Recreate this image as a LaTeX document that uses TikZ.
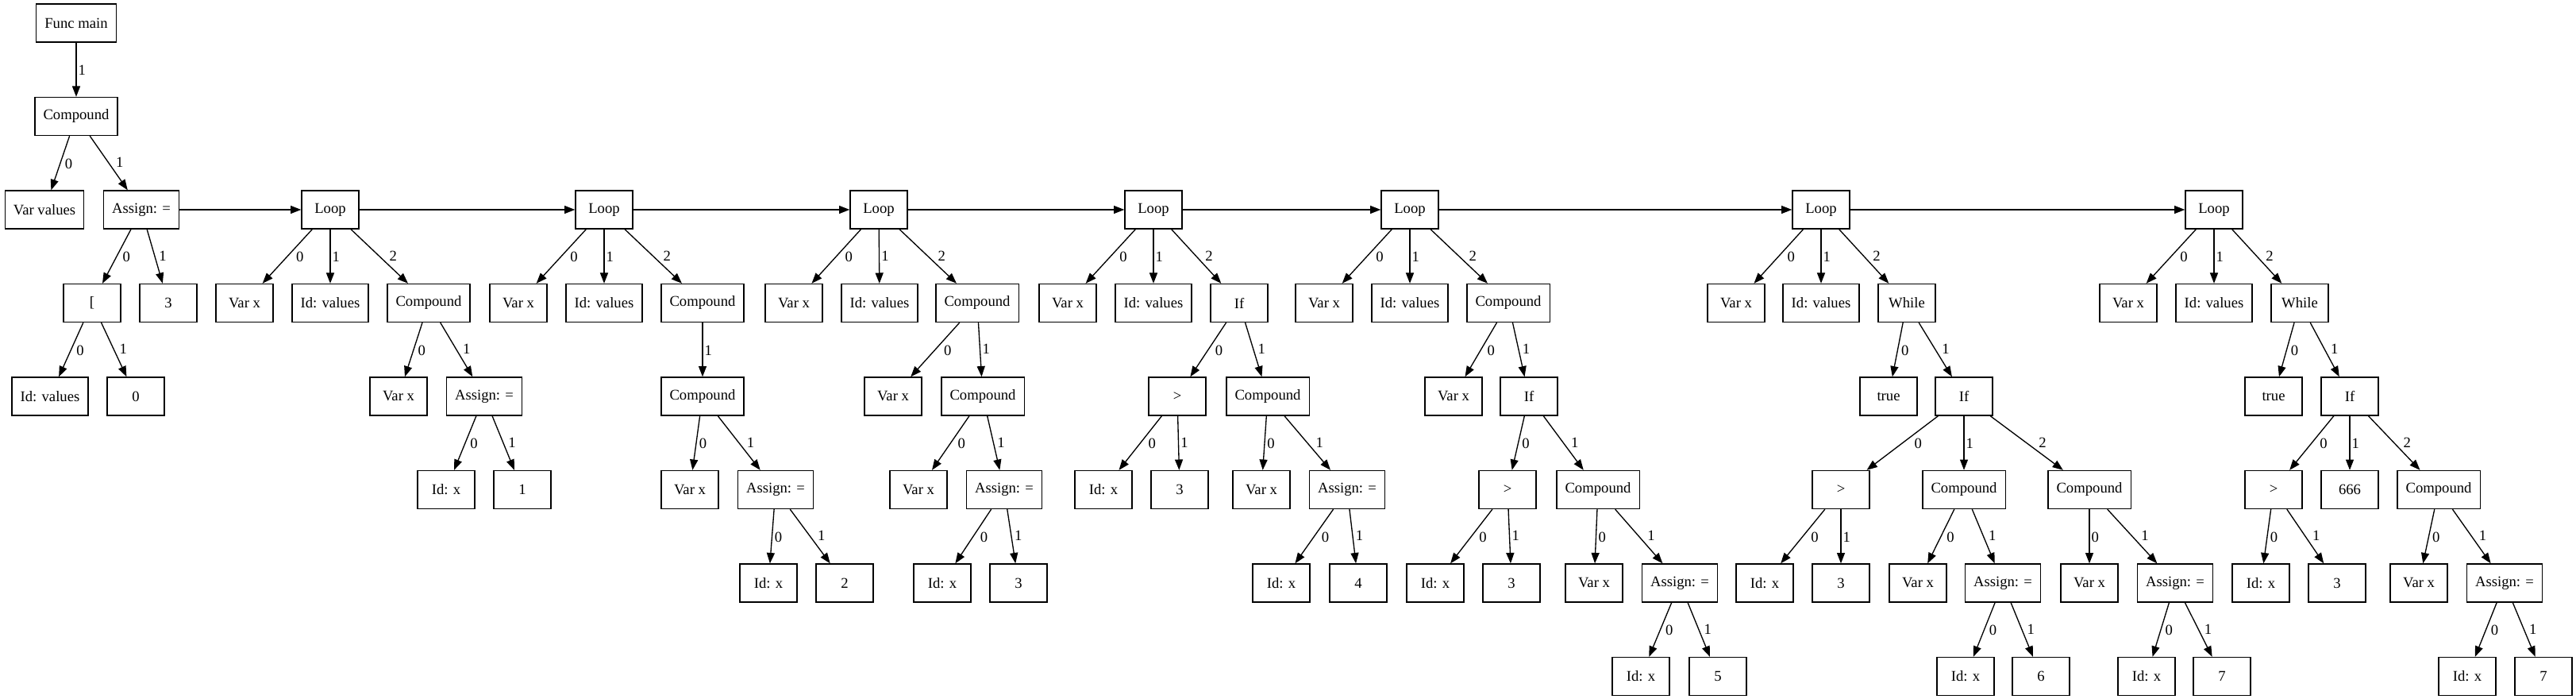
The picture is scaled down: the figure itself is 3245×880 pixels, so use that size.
\documentclass[tikz,border=0pt]{standalone}
\usepackage{fontspec}
\setmainfont{Liberation Serif}
\usetikzlibrary{arrows.meta}
\tikzset{
  box/.style={draw, line width=1pt, rectangle, minimum width=54pt, minimum height=36pt,
    inner xsep=8pt, inner ysep=0pt, font=\fontsize{14pt}{16.8pt}\selectfont},
  edge/.style={draw, line width=1pt, -{Triangle[length=10pt,width=7.5pt]}},
  lab/.style={inner xsep=1.5pt, inner ysep=0pt, minimum height=14.25pt,
    font=\fontsize{14pt}{16.8pt}\selectfont},
  lL/.style={lab, pos=0.363, anchor=north west},
  lR/.style={lab, pos=0.637, anchor=south west},
}
\newcommand{\El}[3]{\draw[edge] (#1) -- (#2) node[lL]{#3};}
\newcommand{\Er}[3]{\draw[edge] (#1) -- (#2) node[lR]{#3};}
\begin{document}
\begin{tikzpicture}[x=0.75pt,y=-0.75pt]
\useasboundingbox (0,0) rectangle (3245,880);
% rows: 29 146.5 264 381.5 499 616.5 734 851.5
% row 0-2
\node[box] (fm) at (96,29) {Func main};
\node[box] (c0) at (96,146.5) {Compound};
\node[box] (vv) at (56,264) {Var values};
\node[box] (a0) at (178,264) {Assign: =};
\node[box] (L1) at (416,264) {Loop};
\node[box] (L2) at (761,264) {Loop};
\node[box] (L3) at (1107,264) {Loop};
\node[box] (L4) at (1453,264) {Loop};
\node[box] (L5) at (1776,264) {Loop};
\node[box] (L6) at (2294,264) {Loop};
\node[box] (L7) at (2789,264) {Loop};
% row 3
\node[box] (br) at (116,381.5) {[};
\node[box] (n3) at (212,381.5) {3};
\node[box] (v1) at (308,381.5) {Var x};
\node[box] (i1) at (416,381.5) {Id: values};
\node[box] (c1) at (540,381.5) {Compound};
\node[box] (v2) at (653,381.5) {Var x};
\node[box] (i2) at (761,381.5) {Id: values};
\node[box] (c2) at (885,381.5) {Compound};
\node[box] (v3) at (1000,381.5) {Var x};
\node[box] (i3) at (1108,381.5) {Id: values};
\node[box] (c3) at (1231,381.5) {Compound};
\node[box] (v4) at (1345,381.5) {Var x};
\node[box] (i4) at (1453,381.5) {Id: values};
\node[box] (if4) at (1561,381.5) {If};
\node[box] (v5) at (1668,381.5) {Var x};
\node[box] (i5) at (1776,381.5) {Id: values};
\node[box] (c5) at (1900,381.5) {Compound};
\node[box] (v6) at (2187,381.5) {Var x};
\node[box] (i6) at (2294,381.5) {Id: values};
\node[box] (w6) at (2402,381.5) {While};
\node[box] (v7) at (2681,381.5) {Var x};
\node[box] (i7) at (2789,381.5) {Id: values};
\node[box] (w7) at (2897,381.5) {While};
% row 4
\node[box] (idv) at (63,499) {Id: values};
\node[box] (z0) at (171,499) {0};
\node[box] (c1v) at (502,499) {Var x};
\node[box] (c1a) at (610,499) {Assign: =};
\node[box] (c2c) at (885,499) {Compound};
\node[box] (c3v) at (1125,499) {Var x};
\node[box] (c3c) at (1238,499) {Compound};
\node[box] (g4) at (1483,499) {>};
\node[box] (c4) at (1597,499) {Compound};
\node[box] (c5v) at (1831,499) {Var x};
\node[box] (if5) at (1926,499) {If};
\node[box] (t6) at (2379,499) {true};
\node[box] (if6) at (2474,499) {If};
\node[box] (t7) at (2864,499) {true};
\node[box] (if7) at (2960,499) {If};
% row 5
\node[box] (x1) at (562,616.5) {Id: x};
\node[box] (k1) at (658,616.5) {1};
\node[box] (c2v) at (869,616.5) {Var x};
\node[box] (c2a) at (977,616.5) {Assign: =};
\node[box] (c3cv) at (1157,616.5) {Var x};
\node[box] (c3a) at (1265,616.5) {Assign: =};
\node[box] (x4g) at (1390,616.5) {Id: x};
\node[box] (k4g) at (1486,616.5) {3};
\node[box] (c4v) at (1589,616.5) {Var x};
\node[box] (c4a) at (1697,616.5) {Assign: =};
\node[box] (g5) at (1899,616.5) {>};
\node[box] (c5c) at (2013,616.5) {Compound};
\node[box] (g6) at (2319,616.5) {>};
\node[box] (c6a) at (2474,616.5) {Compound};
\node[box] (c6b) at (2632,616.5) {Compound};
\node[box] (g7) at (2864,616.5) {>};
\node[box] (n666) at (2960,616.5) {666};
\node[box] (c7) at (3072,616.5) {Compound};
% row 6
\node[box] (x2) at (968,734) {Id: x};
\node[box] (k2) at (1064,734) {2};
\node[box] (x3) at (1187,734) {Id: x};
\node[box] (k3) at (1283,734) {3};
\node[box] (x4) at (1614,734) {Id: x};
\node[box] (k4) at (1711,734) {4};
\node[box] (x5g) at (1808,734) {Id: x};
\node[box] (k5g) at (1904,734) {3};
\node[box] (c5cv) at (2008,734) {Var x};
\node[box] (c5ca) at (2116,734) {Assign: =};
\node[box] (x6g) at (2223,734) {Id: x};
\node[box] (k6g) at (2319,734) {3};
\node[box] (c6av) at (2416,734) {Var x};
\node[box] (c6aa) at (2523,734) {Assign: =};
\node[box] (c6bv) at (2632,734) {Var x};
\node[box] (c6ba) at (2740,734) {Assign: =};
\node[box] (x7g) at (2848,734) {Id: x};
\node[box] (k7g) at (2944,734) {3};
\node[box] (c7v) at (3047,734) {Var x};
\node[box] (c7a) at (3155,734) {Assign: =};
% row 7
\node[box] (x5) at (2067,851.5) {Id: x};
\node[box] (k5) at (2164,851.5) {5};
\node[box] (x6a) at (2476,851.5) {Id: x};
\node[box] (k6a) at (2571,851.5) {6};
\node[box] (x6b) at (2704,851.5) {Id: x};
\node[box] (k6b) at (2799,851.5) {7};
\node[box] (x7) at (3108,851.5) {Id: x};
\node[box] (k7) at (3204,851.5) {7};
% horizontal chain
\draw[edge] (a0) -- (L1);
\draw[edge] (L1) -- (L2);
\draw[edge] (L2) -- (L3);
\draw[edge] (L3) -- (L4);
\draw[edge] (L4) -- (L5);
\draw[edge] (L5) -- (L6);
\draw[edge] (L6) -- (L7);
% tree edges
\El{fm}{c0}{1}
\El{c0}{vv}{0} \Er{c0}{a0}{1}
\El{a0}{br}{0} \Er{a0}{n3}{1}
\El{br}{idv}{0} \Er{br}{z0}{1}
% L1
\El{L1}{v1}{0} \El{L1}{i1}{1} \Er{L1}{c1}{2}
\El{c1}{c1v}{0} \Er{c1}{c1a}{1}
\El{c1a}{x1}{0} \Er{c1a}{k1}{1}
% L2
\El{L2}{v2}{0} \El{L2}{i2}{1} \Er{L2}{c2}{2}
\El{c2}{c2c}{1}
\El{c2c}{c2v}{0} \Er{c2c}{c2a}{1}
\El{c2a}{x2}{0} \Er{c2a}{k2}{1}
% L3
\El{L3}{v3}{0} \Er{L3}{i3}{1} \Er{L3}{c3}{2}
\El{c3}{c3v}{0} \Er{c3}{c3c}{1}
\El{c3c}{c3cv}{0} \Er{c3c}{c3a}{1}
\El{c3a}{x3}{0} \Er{c3a}{k3}{1}
% L4
\El{L4}{v4}{0} \El{L4}{i4}{1} \Er{L4}{if4}{2}
\El{if4}{g4}{0} \Er{if4}{c4}{1}
\El{g4}{x4g}{0} \Er{g4}{k4g}{1}
\El{c4}{c4v}{0} \Er{c4}{c4a}{1}
\El{c4a}{x4}{0} \Er{c4a}{k4}{1}
% L5
\El{L5}{v5}{0} \El{L5}{i5}{1} \Er{L5}{c5}{2}
\El{c5}{c5v}{0} \Er{c5}{if5}{1}
\El{if5}{g5}{0} \Er{if5}{c5c}{1}
\El{g5}{x5g}{0} \Er{g5}{k5g}{1}
\El{c5c}{c5cv}{0} \Er{c5c}{c5ca}{1}
\El{c5ca}{x5}{0} \Er{c5ca}{k5}{1}
% L6
\El{L6}{v6}{0} \El{L6}{i6}{1} \Er{L6}{w6}{2}
\El{w6}{t6}{0} \Er{w6}{if6}{1}
\El{if6}{g6}{0} \El{if6}{c6a}{1} \Er{if6}{c6b}{2}
\El{g6}{x6g}{0} \El{g6}{k6g}{1}
\El{c6a}{c6av}{0} \Er{c6a}{c6aa}{1}
\El{c6b}{c6bv}{0} \Er{c6b}{c6ba}{1}
\El{c6aa}{x6a}{0} \Er{c6aa}{k6a}{1}
\El{c6ba}{x6b}{0} \Er{c6ba}{k6b}{1}
% L7
\El{L7}{v7}{0} \El{L7}{i7}{1} \Er{L7}{w7}{2}
\El{w7}{t7}{0} \Er{w7}{if7}{1}
\El{if7}{g7}{0} \El{if7}{n666}{1} \Er{if7}{c7}{2}
\El{g7}{x7g}{0} \Er{g7}{k7g}{1}
\El{c7}{c7v}{0} \Er{c7}{c7a}{1}
\El{c7a}{x7}{0} \Er{c7a}{k7}{1}
\end{tikzpicture}
\end{document}
